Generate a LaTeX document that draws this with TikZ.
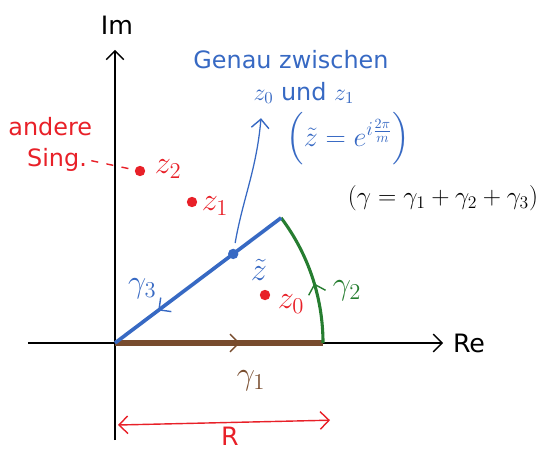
\RequirePackage{fix-cm}
\documentclass[tikz,border=0pt]{standalone}
\usepackage{amsmath}
\usepackage{fontspec}
\setmainfont{DejaVu Sans}
\usepackage{xcolor}
\usetikzlibrary{arrows.meta,positioning,decorations.markings}

\definecolor{penred}{RGB}{232,32,40}
\definecolor{penblue}{RGB}{55,105,195}
\definecolor{penbrown}{RGB}{120,76,46}
\definecolor{pengreen}{RGB}{38,125,48}

\begin{document}
\begin{tikzpicture}[
    >={Straight Barb[length=2.2mm,width=4.4mm,line width=1pt]},
    axis/.style={->,line width=1.2pt},
    midarrow/.style={postaction={decorate,decoration={markings,
                     mark=at position #1 with {\arrow[line width=1.4pt]{>}}}}},
    gamone/.style={penbrown,line width=3.6pt,midarrow=0.6},
    gamtwo/.style={pengreen,line width=2.2pt,midarrow=0.45},
    gamthree/.style={penblue,line width=2.6pt,midarrow=0.74},
    pole/.style={circle,fill=penred,inner sep=0pt,minimum size=2.6mm},
    lbl/.style={font=\fontsize{18}{21}\selectfont,inner sep=1pt},
    biglbl/.style={font=\fontsize{23}{26}\selectfont,inner sep=1pt},
    note/.style={font=\fontsize{17}{20}\selectfont,inner sep=0pt},
  ]
  \useasboundingbox (-2.875,-2.675) rectangle (10.525,8.575);

  % --- axes ---
  \coordinate (o)  at (0,0);
  \coordinate (xl) at (-2.175,0);
  \coordinate (xr) at (8.2,0);
  \coordinate (yb) at (0,-2.425);
  \coordinate (yt) at (0,7.33);
  \draw[axis] (xl) -- (xr);
  \draw[axis] (yb) -- (yt);
  \node[lbl] (re) at (8.85,0)   {Re};
  \node[lbl] (im) at (0.05,7.95) {Im};

  % --- contour gamma_1, gamma_2, gamma_3 ---
  \coordinate (a) at (5.2,0);
  \coordinate (b) at (37:5.2);
  \draw[gamone] (o) -- (a);
  \draw[gamtwo] (a) arc[start angle=0,end angle=37,radius=5.2];
  \draw[gamthree] (b) -- (o);
  \node[biglbl,penbrown] (g1) at (3.4,-0.95) {$\gamma_1$};
  \node[biglbl,pengreen] (g2) at (5.8,1.3)   {$\gamma_2$};
  \node[biglbl,penblue]  (g3) at (0.68,1.35) {$\gamma_3$};

  % --- singularities ---
  \node[pole] (z0) at (3.75,1.2)    {};
  \node[pole] (z1) at (1.925,3.525) {};
  \node[pole] (z2) at (0.625,4.3)   {};
  \node[biglbl,penred] (z0l) at (4.4,0.98)  {$z_0$};
  \node[biglbl,penred] (z1l) at (2.5,3.42)  {$z_1$};
  \node[biglbl,penred] (z2l) at (1.33,4.35) {$z_2$};

  % --- other singularities note ---
  \node[note,penred] (andere) at (-1.62,5.4)  {andere};
  \node[note,penred] (sing)   at (-1.45,4.58) {Sing.};
  \draw[penred,line width=1pt,dash pattern=on 5pt off 6pt,shorten <=3pt,shorten >=4pt]
    (sing.east) -- (z2);

  % --- point between z0 and z1 ---
  \node[circle,fill=penblue,inner sep=0pt,minimum size=2.6mm] (zt) at (37:3.7) {};
  \node[biglbl,penblue] (ztl) at (3.6,1.82) {$\tilde z$};
  \node[note,penblue] (genau) at (4.4,7.08)  {Genau zwischen};
  \node[note,penblue] (und)   at (4.72,6.25) {$z_0$ und $z_1$};
  \node[note,penblue,font=\fontsize{20}{23}\selectfont] (form) at (5.83,5.1)
    {$\left(\tilde z = e^{i\frac{2\pi}{m}}\right)$};
  \coordinate (tip) at (3.65,5.62);
  \draw[->,penblue,line width=0.9pt,shorten <=4pt] (zt) to[out=80,in=-95] (tip);

  % --- sum of paths ---
  \node[lbl] (sum) at (8.2,3.62) {$\left(\gamma = \gamma_1 + \gamma_2 + \gamma_3\right)$};

  % --- radius ---
  \coordinate (r0) at (0.075,-2.05);
  \coordinate (r1) at (5.375,-1.93);
  \draw[<->,penred,line width=1pt] (r0) -- (r1);
  \node[lbl,penred] (rl) at (2.875,-2.33) {R};

\end{tikzpicture}
\end{document}
